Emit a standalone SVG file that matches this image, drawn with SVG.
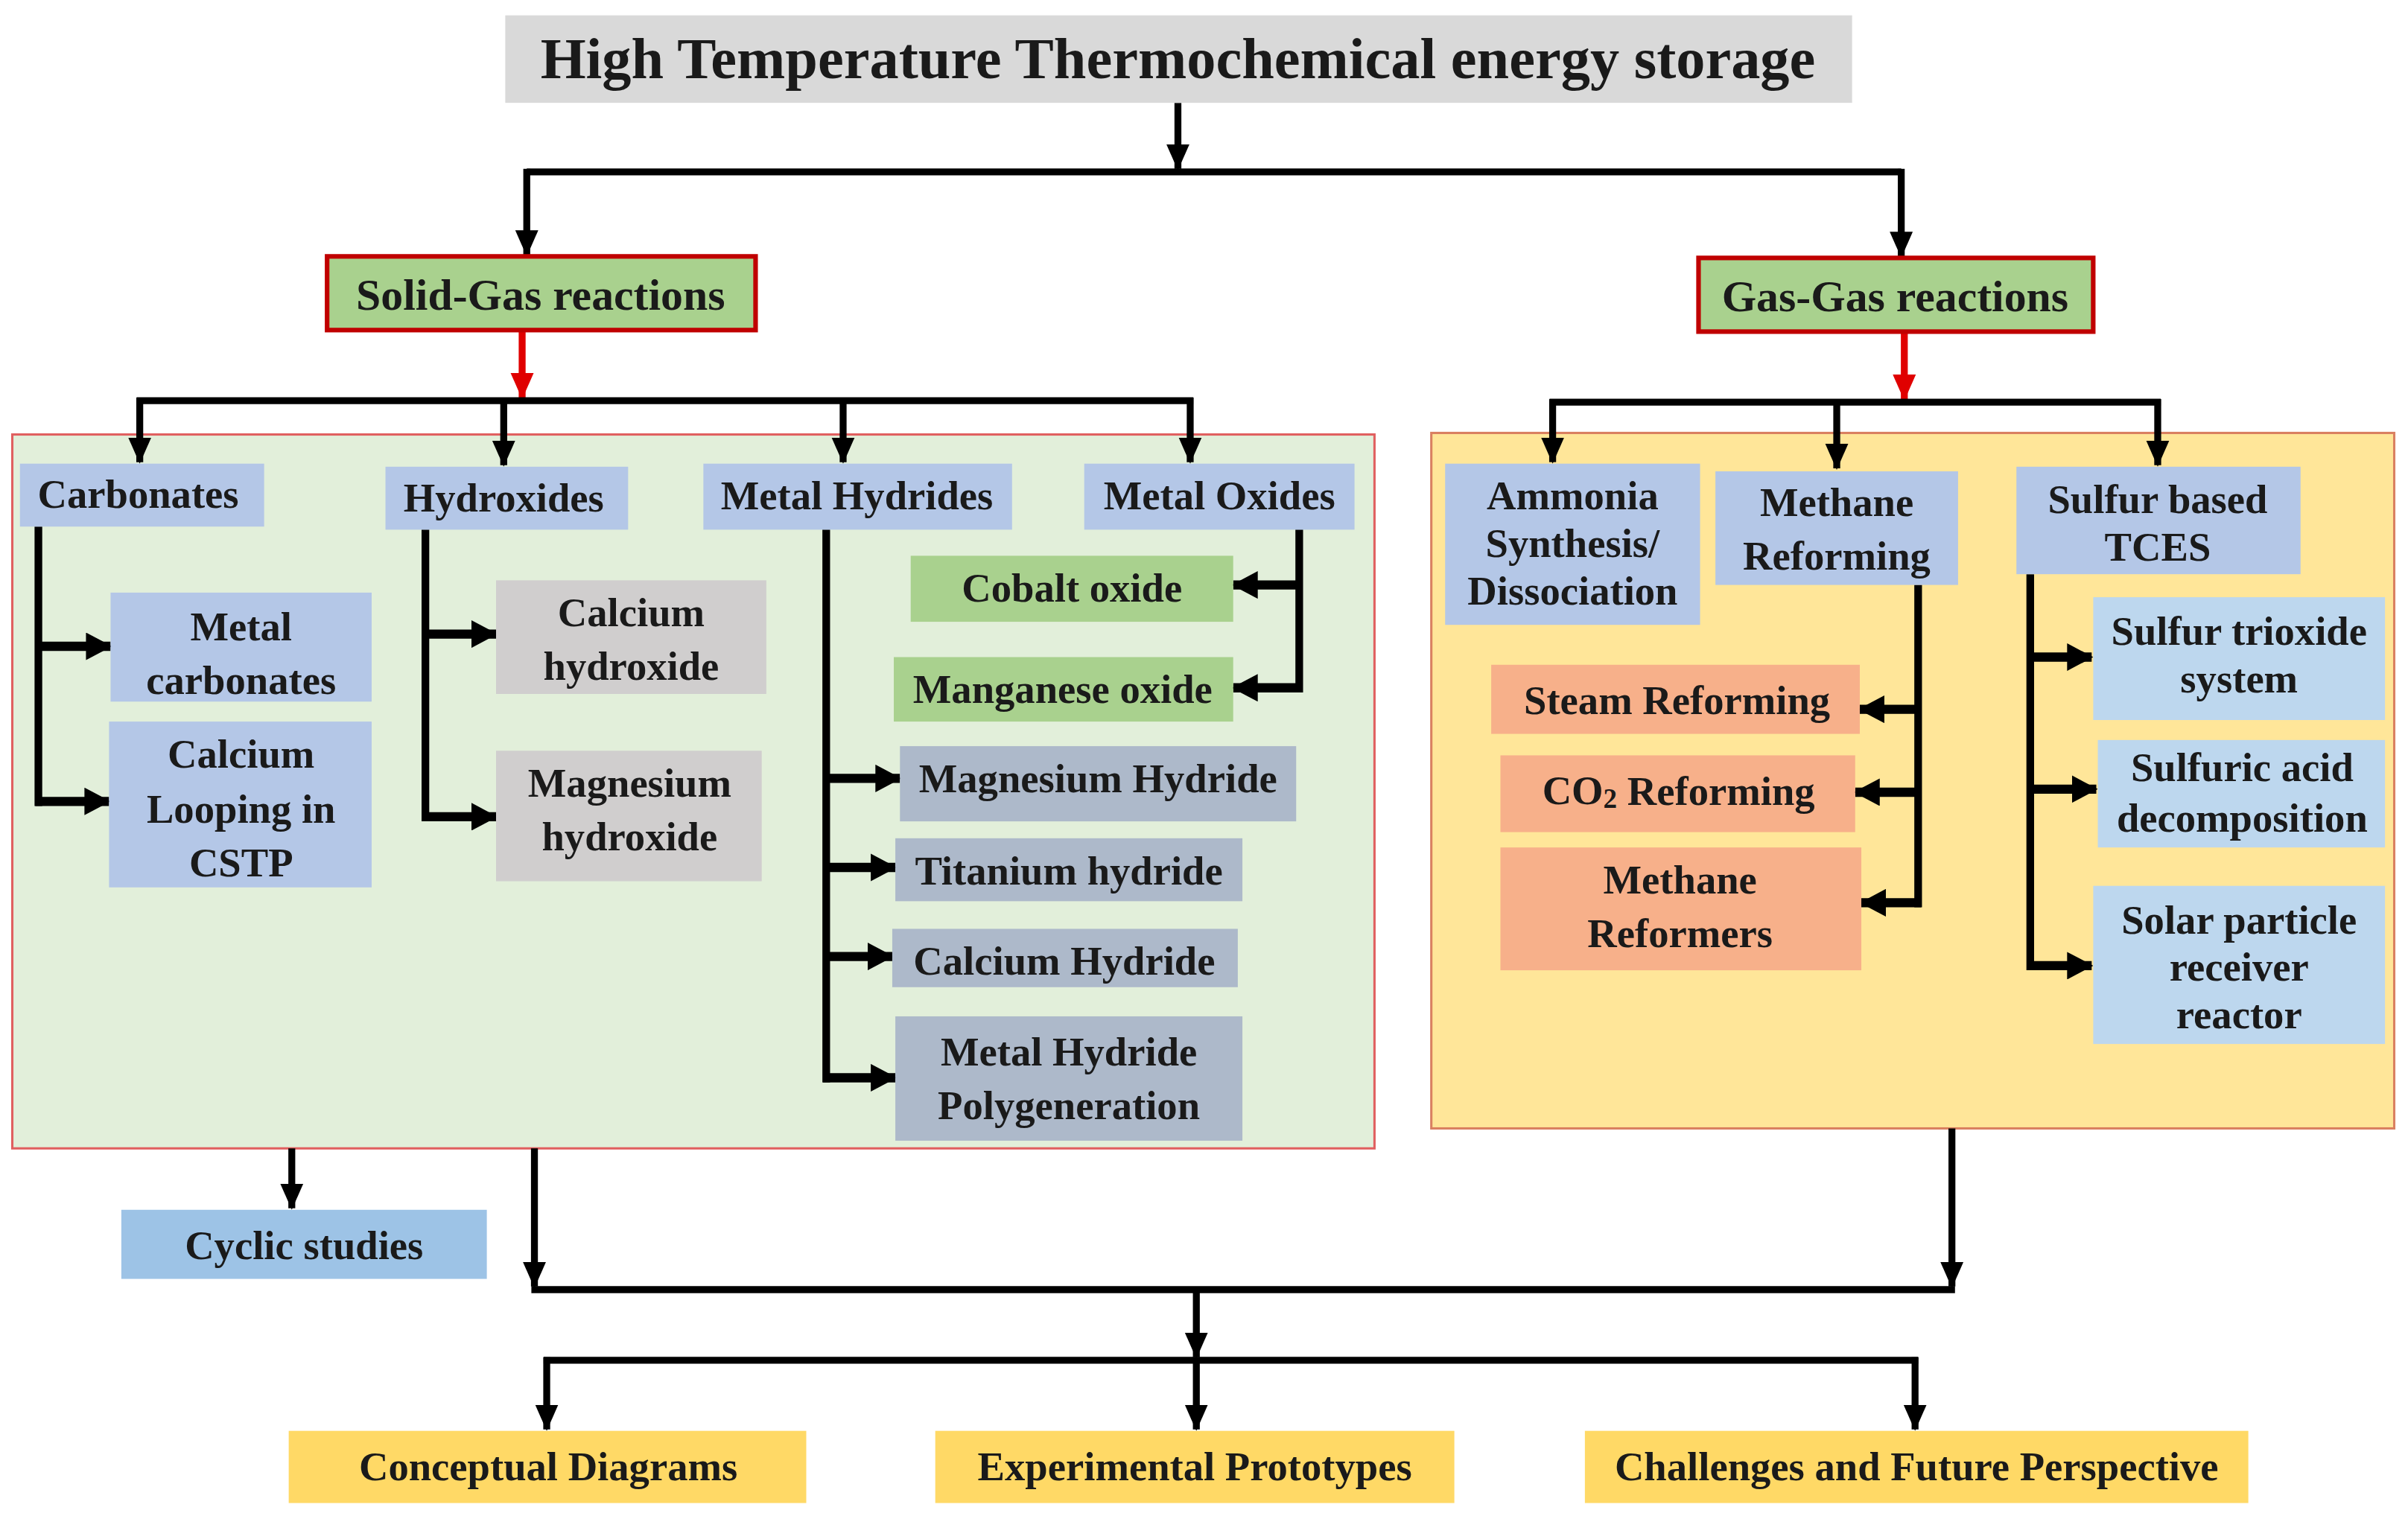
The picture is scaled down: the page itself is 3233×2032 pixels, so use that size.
<svg xmlns="http://www.w3.org/2000/svg" width="3233" height="2032" viewBox="0 0 3233 2032">
<style>
text{font-family:"Liberation Serif","Times New Roman",serif;font-weight:bold;fill:#1a1a1a;text-anchor:middle;dominant-baseline:central}
.t0{font-size:38px}
.t1{font-size:29px}
.t2{font-size:26.5px}
.ln{fill:none;stroke:#000;stroke-width:4.5}
.lv{fill:none;stroke:#000;stroke-width:5}
.ar{fill:none;stroke:#000;stroke-width:4.5;marker-end:url(#ah)}
.as{fill:none;stroke:#000;stroke-width:6;marker-end:url(#ah2)}
.ar-red{fill:none;stroke:#e00000;stroke-width:4.5;marker-end:url(#ahr)}
.gray{fill:#d9d9d9}
.hdr{fill:#a9d18e;stroke:#c00000;stroke-width:3}
.blue{fill:#b4c7e7}
.hyd{fill:#d0cece}
.grn{fill:#a9d18e}
.mh{fill:#adb9ca}
.org{fill:#f7b08a}
.lb{fill:#bdd7ee}
.cyc{fill:#9dc3e6}
.yel{fill:#ffd966}
</style>
<defs>
<marker id="ah" markerUnits="userSpaceOnUse" markerWidth="17" markerHeight="16" refX="16" refY="8" orient="auto" viewBox="0 0 17 16">
<path d="M0,0.5 L17,8 L0,15.5 z" fill="#000"/>
</marker>
<marker id="ah2" markerUnits="userSpaceOnUse" markerWidth="17" markerHeight="18" refX="16" refY="9" orient="auto" viewBox="0 0 17 18">
<path d="M0,0 L17,9 L0,18 z" fill="#000"/>
</marker>
<marker id="ahr" markerUnits="userSpaceOnUse" markerWidth="17" markerHeight="16" refX="16" refY="8" orient="auto" viewBox="0 0 17 16">
<path d="M0,0.5 L17,8 L0,15.5 z" fill="#e00000"/>
</marker>
</defs>
<rect width="3233" height="2032" fill="#ffffff"/>
<g transform="scale(2.0619)">
<g id="panels">
<rect id="solid-panel" x="8" y="283" width="887" height="465" fill="#e2efda" stroke="#e06060" stroke-width="1.5"/>
<rect id="gas-panel" x="932" y="282" width="627" height="453" fill="#ffe699" stroke="#d98060" stroke-width="1.5"/>
</g>
<g id="connectors">
<path class="ar" d="M767,67 V110"/>
<path class="ln" d="M343,112 H1238"/>
<path class="ar" d="M343,110 V166"/>
<path class="ar" d="M1238,110 V167"/>
<path class="ar-red" d="M340,215 V259"/>
<path class="ln" d="M89,261 H777"/>
<path class="ar" d="M91,259 V301"/>
<path class="ar" d="M328,259 V303"/>
<path class="ar" d="M549,259 V301"/>
<path class="ar" d="M775,259 V301"/>
<path class="ar-red" d="M1240,216 V260"/>
<path class="ln" d="M1009,262 H1407"/>
<path class="ar" d="M1011,260 V301"/>
<path class="ar" d="M1196,260 V305"/>
<path class="ar" d="M1405,260 V303"/>
<path class="lv" d="M25,343 V525"/>
<path class="as" d="M23,421 H72"/>
<path class="as" d="M23,522 H71"/>
<path class="lv" d="M277,345 V535"/>
<path class="as" d="M275,413 H323"/>
<path class="as" d="M275,532 H323"/>
<path class="lv" d="M538,345 V705"/>
<path class="as" d="M536,507 H586"/>
<path class="as" d="M536,565 H583"/>
<path class="as" d="M536,623 H581"/>
<path class="as" d="M536,702 H583"/>
<path class="lv" d="M846,345 V451"/>
<path class="as" d="M848,381 H803"/>
<path class="as" d="M848,448 H803"/>
<path class="lv" d="M1249,381 V591"/>
<path class="as" d="M1251,462 H1211"/>
<path class="as" d="M1251,516 H1208"/>
<path class="as" d="M1251,588 H1212"/>
<path class="lv" d="M1322,374 V632"/>
<path class="as" d="M1320,428 H1362"/>
<path class="as" d="M1320,514 H1365"/>
<path class="as" d="M1320,629 H1362"/>
<path class="ar" d="M190,748 V787"/>
<path class="ar" d="M348,748 V838"/>
<path class="ln" d="M346,840 H1273"/>
<path class="ar" d="M1271,735 V838"/>
<path class="ar" d="M779,840 V884"/>
<path class="ln" d="M354,886 H1249"/>
<path class="ar" d="M356,884 V931"/>
<path class="ar" d="M779,884 V931"/>
<path class="ar" d="M1247,884 V931"/>
</g>
<g id="title"><rect class="gray" x="329" y="10" width="877" height="57"/><text class="t0" x="767" y="38">High Temperature Thermochemical energy storage</text></g>
<g id="solid-gas"><rect class="hdr" x="213" y="167" width="279" height="48"/><text class="t1" x="352" y="192">Solid-Gas reactions</text></g>
<g id="gas-gas"><rect class="hdr" x="1106" y="168" width="257" height="48"/><text class="t1" x="1234" y="193">Gas-Gas reactions</text></g>
<g id="carbonates"><rect class="blue" x="13" y="302" width="159" height="41"/><text class="t2" x="90" y="322">Carbonates</text></g>
<g id="hydroxides"><rect class="blue" x="251" y="304" width="158" height="41"/><text class="t2" x="328" y="324">Hydroxides</text></g>
<g id="metal-hydrides"><rect class="blue" x="458" y="302" width="201" height="43"/><text class="t2" x="558" y="323">Metal Hydrides</text></g>
<g id="metal-oxides"><rect class="blue" x="706" y="302" width="176" height="43"/><text class="t2" x="794" y="323">Metal Oxides</text></g>
<g id="metal-carbonates"><rect class="blue" x="72" y="386" width="170" height="71"/><text class="t2" x="157" y="408">Metal</text><text class="t2" x="157" y="443">carbonates</text></g>
<g id="calcium-looping"><rect class="blue" x="71" y="470" width="171" height="108"/><text class="t2" x="157" y="491">Calcium</text><text class="t2" x="157" y="527">Looping in</text><text class="t2" x="157" y="562">CSTP</text></g>
<g id="calcium-hydroxide"><rect class="hyd" x="323" y="378" width="176" height="74"/><text class="t2" x="411" y="399">Calcium</text><text class="t2" x="411" y="434">hydroxide</text></g>
<g id="magnesium-hydroxide"><rect class="hyd" x="323" y="489" width="173" height="85"/><text class="t2" x="410" y="510">Magnesium</text><text class="t2" x="410" y="545">hydroxide</text></g>
<g id="cobalt-oxide"><rect class="grn" x="593" y="362" width="210" height="43"/><text class="t2" x="698" y="383">Cobalt oxide</text></g>
<g id="manganese-oxide"><rect class="grn" x="582" y="428" width="221" height="42"/><text class="t2" x="692" y="449">Manganese oxide</text></g>
<g id="magnesium-hydride"><rect class="mh" x="586" y="486" width="258" height="49"/><text class="t2" x="715" y="507">Magnesium Hydride</text></g>
<g id="titanium-hydride"><rect class="mh" x="583" y="546" width="226" height="41"/><text class="t2" x="696" y="567">Titanium hydride</text></g>
<g id="calcium-hydride"><rect class="mh" x="581" y="605" width="225" height="38"/><text class="t2" x="693" y="626">Calcium Hydride</text></g>
<g id="mh-polygeneration"><rect class="mh" x="583" y="662" width="226" height="81"/><text class="t2" x="696" y="685">Metal Hydride</text><text class="t2" x="696" y="720">Polygeneration</text></g>
<g id="cyclic-studies"><rect class="cyc" x="79" y="788" width="238" height="45"/><text class="t2" x="198" y="811">Cyclic studies</text></g>
<g id="ammonia"><rect class="blue" x="941" y="302" width="166" height="105"/><text class="t2" x="1024" y="323">Ammonia</text><text class="t2" x="1024" y="354">Synthesis/</text><text class="t2" x="1024" y="385">Dissociation</text></g>
<g id="methane-reforming"><rect class="blue" x="1117" y="307" width="158" height="74"/><text class="t2" x="1196" y="327">Methane</text><text class="t2" x="1196" y="362">Reforming</text></g>
<g id="sulfur-tces"><rect class="blue" x="1313" y="304" width="185" height="70"/><text class="t2" x="1405" y="325">Sulfur based</text><text class="t2" x="1405" y="356">TCES</text></g>
<g id="steam-reforming"><rect class="org" x="971" y="433" width="240" height="45"/><text class="t2" x="1092" y="456">Steam Reforming</text></g>
<g id="co2-reforming"><rect class="org" x="977" y="492" width="231" height="50"/><text class="t2" x="1093" y="515">CO<tspan font-size="18" dy="5">2</tspan><tspan dy="-5"> Reforming</tspan></text></g>
<g id="methane-reformers"><rect class="org" x="977" y="552" width="235" height="80"/><text class="t2" x="1094" y="573">Methane</text><text class="t2" x="1094" y="608">Reformers</text></g>
<g id="sulfur-trioxide"><rect class="lb" x="1363" y="389" width="190" height="80"/><text class="t2" x="1458" y="411">Sulfur trioxide</text><text class="t2" x="1458" y="442">system</text></g>
<g id="sulfuric-acid"><rect class="lb" x="1366" y="482" width="187" height="70"/><text class="t2" x="1460" y="500">Sulfuric acid</text><text class="t2" x="1460" y="533">decomposition</text></g>
<g id="solar-particle"><rect class="lb" x="1363" y="577" width="190" height="103"/><text class="t2" x="1458" y="599">Solar particle</text><text class="t2" x="1458" y="630">receiver</text><text class="t2" x="1458" y="661">reactor</text></g>
<g id="conceptual"><rect class="yel" x="188" y="932" width="337" height="47"/><text class="t2" x="357" y="955">Conceptual Diagrams</text></g>
<g id="experimental"><rect class="yel" x="609" y="932" width="338" height="47"/><text class="t2" x="778" y="955">Experimental Prototypes</text></g>
<g id="challenges"><rect class="yel" x="1032" y="932" width="432" height="47"/><text class="t2" x="1248" y="955">Challenges and Future Perspective</text></g>
</g>
</svg>
